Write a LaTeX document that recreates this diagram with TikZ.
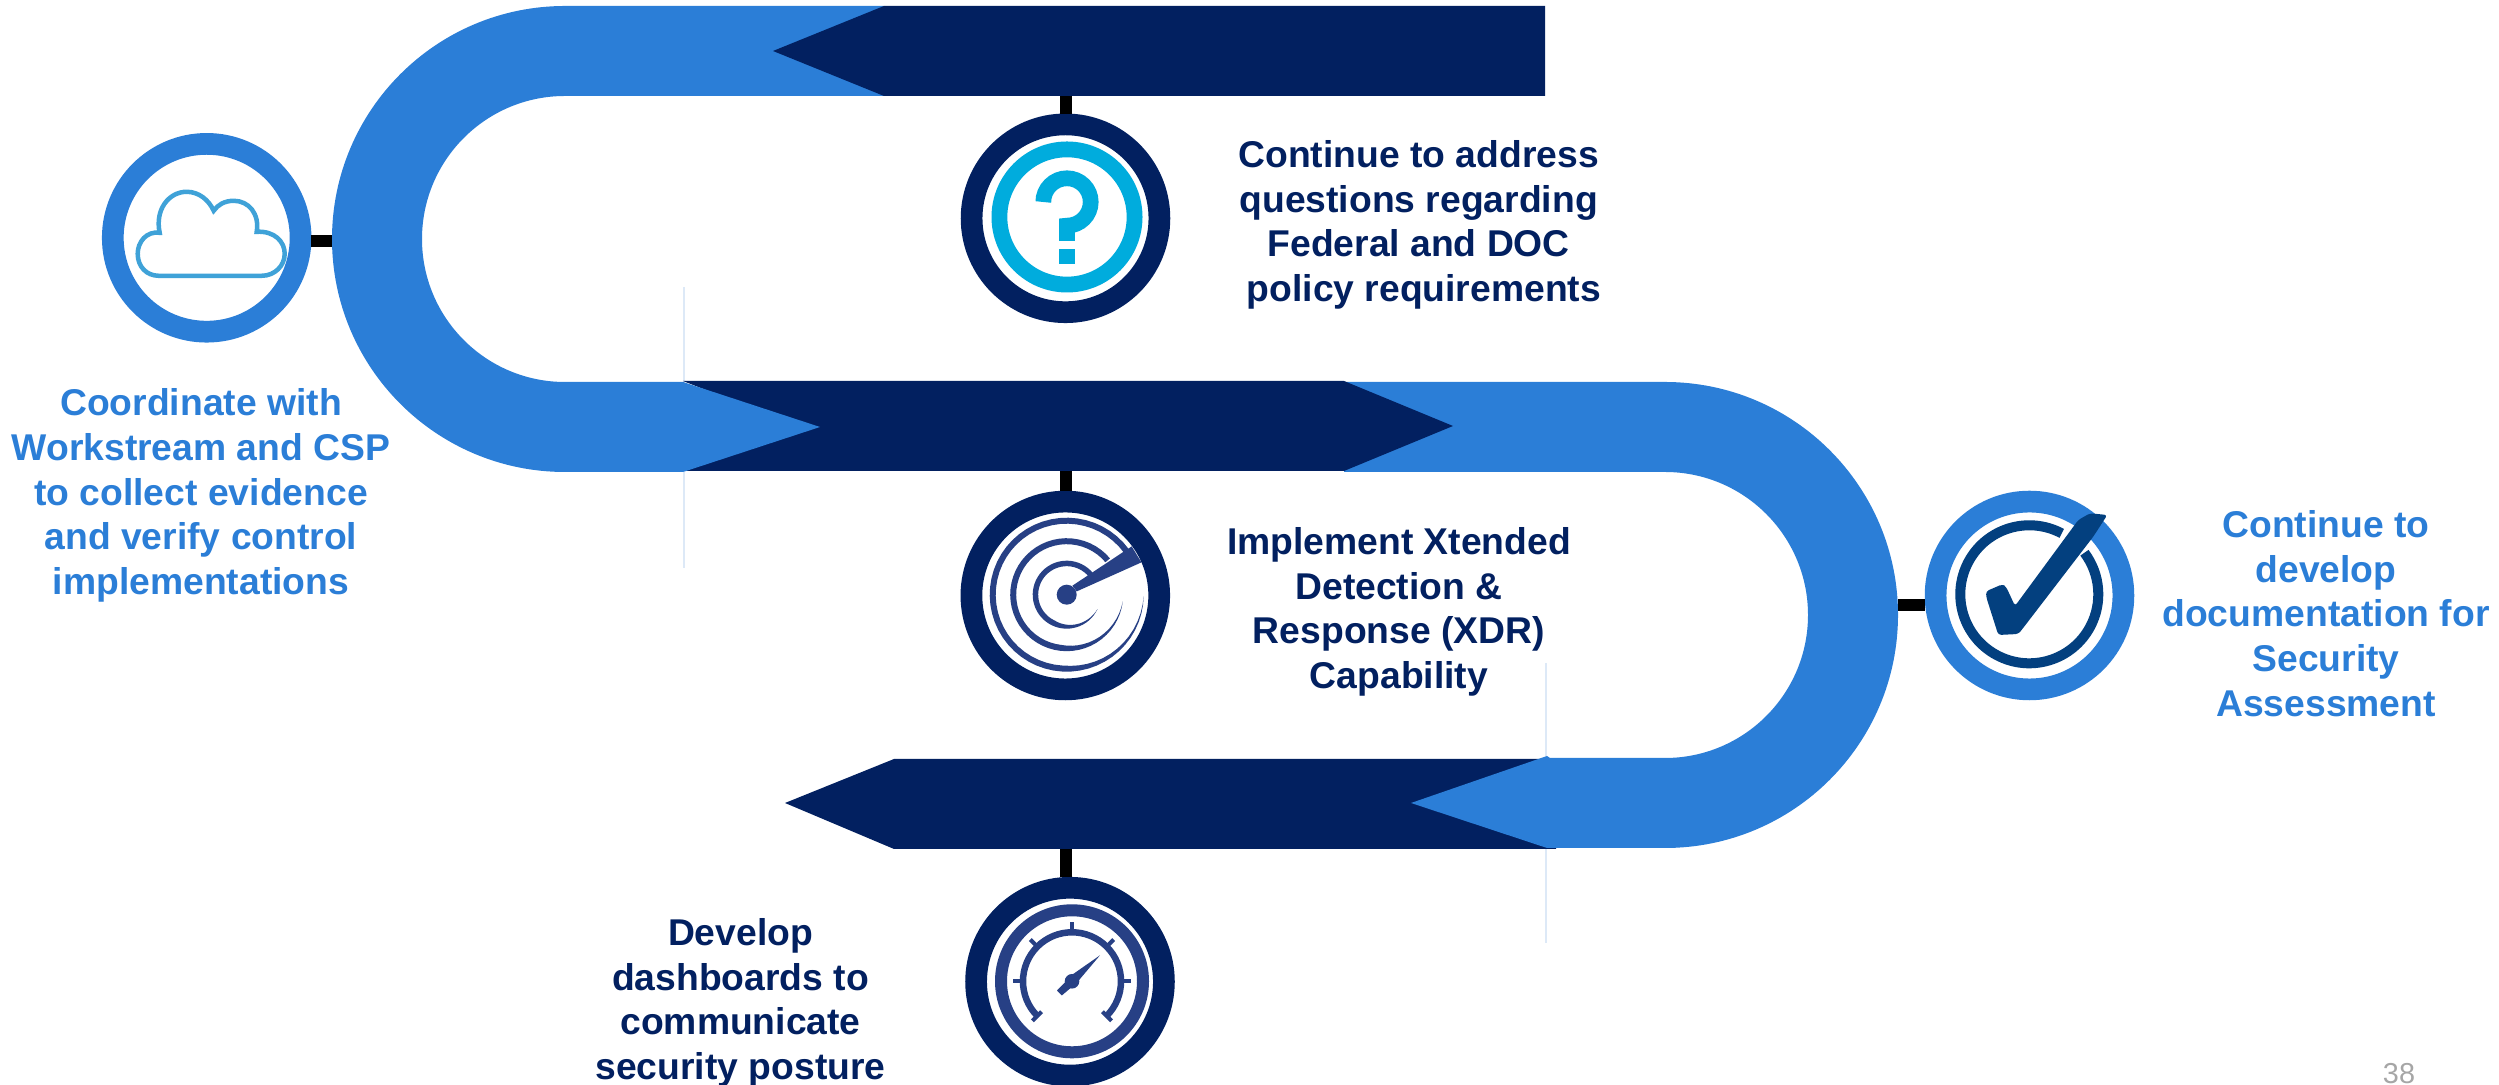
\documentclass[tikz,border=0pt]{standalone}
\usepackage{fontspec}
\setmainfont{Liberation Sans}
\definecolor{navyband}{HTML}{022060}
\definecolor{lightband}{HTML}{2B7ED7}
\definecolor{skyicon}{HTML}{00ACDD}
\definecolor{cloudicon}{HTML}{3FA2D8}
\definecolor{radaricon}{HTML}{274085}
\definecolor{checkicon}{HTML}{03407F}
\definecolor{faintrule}{HTML}{DDE9F7}
\definecolor{pagegray}{HTML}{A6A6A6}
\tikzset{
	ringnode/.style={circle, draw=#1, fill=white, line width=0.217cm, minimum size=1.877cm, inner sep=0pt},
	stepnote/.style={align=center, font=\fontsize{10.6}{12.7}\selectfont\bfseries, text=#1},
	linkbar/.style={draw=black, line width=0.12cm},
	faintline/.style={draw=faintrule, line width=0.012cm},
}
\begin{document}
\begin{tikzpicture}[x=0.01cm, y=0.01cm]
	\useasboundingbox (0,0) rectangle (2499,1085);
	
	%thin rules behind the bands
	\draw[faintline] (684,798) -- (684,517);
	\draw[faintline] (1546,422) -- (1546,142);
	
	%bands, bottom one first
	\fill[navyband] (1556,326) -- (894,326) -- (785,282) -- (894,236) -- (1556,236) -- cycle;
	\fill[lightband] (1344,703) -- (1665,703) arc[start angle=90, end angle=-90, radius=233] -- (1547,237) -- (1411,282) -- (1547,329) -- (1550,327) -- (1665,327) arc[start angle=-90, end angle=90, radius=143] -- (1344,613) -- cycle;
	\fill[navyband] (683,704) -- (800,658) -- (683,614) -- (1344,614) -- (1453,659) -- (1344,704) -- cycle;
	\fill[lightband] (884,1079) -- (565,1079) arc[start angle=90, end angle=270, radius=233] -- (683,613) -- (820,658) -- (683,703) -- (565,703) arc[start angle=270, end angle=90, radius=143] -- (884,989) -- cycle;
	\fill[navyband] (1545,1079) -- (884,1079) -- (773,1034) -- (884,989) -- (1545,989) -- cycle;
	
	%where the bars meet the bands
	\coordinate (cloudport) at (332,844);
	\coordinate (questionport) at (1066,989);
	\coordinate (radarport) at (1066,614);
	\coordinate (gaugeport) at (1066,236);
	\coordinate (checkport) at (1898,480);
	
	%rings
	\node[ringnode=lightband] (cloudring) at (206.7,847.2) {};
	\node[ringnode=navyband] (questionring) at (1065.5,866.7) {};
	\node[ringnode=navyband] (radarring) at (1065.3,489.5) {};
	\node[ringnode=navyband] (gaugering) at (1070,103.3) {};
	\node[ringnode=lightband] (checkring) at (2029.5,489.5) {};
	
	\draw[linkbar] (cloudport) -- (cloudport -| cloudring.east);
	\draw[linkbar] (questionport) -- (questionport |- questionring.north);
	\draw[linkbar] (radarport) -- (radarport |- radarring.north);
	\draw[linkbar] (gaugeport) -- (gaugeport |- gaugering.north);
	\draw[linkbar] (checkport) -- (checkport -| checkring.west);
	
	%cloud
	\begin{scope}[shift={(206.7,847.2)}]
		\draw[cloudicon, line width=0.045cm] (-48,-38) -- (55,-38) .. controls (68,-38) and (78,-28) .. (78,-16) .. controls (78,-4) and (68,7) .. (50,6) .. controls (53,24) and (42,37) .. (27,37) .. controls (18,37) and (11,33) .. (7,27) .. controls (2,38) and (-8,46) .. (-20,46) .. controls (-38,46) and (-52,28) .. (-47,5) .. controls (-60,7) and (-69,-4) .. (-69,-16) .. controls (-69,-29) and (-60,-38) .. (-48,-38) -- cycle;
	\end{scope}
	
	%question mark
	\begin{scope}[shift={(1067,868)}]
		\draw[skyicon, line width=0.158cm] (0,0) circle[radius=67.6];
		\draw[skyicon, line width=0.157cm] (-23.7,15) arc[start angle=180, end angle=-90, radius=23.7] -- (0,-24);
		\fill[skyicon] (-7.8,-32) rectangle (7.8,-47.5);
	\end{scope}
	
	%radar
	\begin{scope}[shift={(1066.7,490.3)}]
		\foreach \rad/\thick/\from/\upto in {34/5.5/40/335, 56.5/6/40/353, 77/6/36/359}{
			\fill[radaricon] plot[domain=\from:\upto, samples=50] (\x:\rad) -- plot[domain=\upto:\from, samples=50] (\x:{\rad-\thick*min(1,(\upto-\x)/90)}) -- cycle;
		}
		\fill[radaricon] (5.7,9) -- (65,48.3) -- (74.7,32.3) -- (10,3.3) -- cycle;
		\fill[radaricon] (0,0) circle[radius=10];
	\end{scope}
	
	%gauge
	\begin{scope}[shift={(1072,103.7)}]
		\draw[radaricon, line width=0.12cm] (0,0) circle[radius=71];
		\draw[radaricon, line width=0.065cm] (-45:49) arc[start angle=-45, end angle=225, radius=49];
		\foreach \ang in {0,45,90,135,180}{
			\draw[radaricon, line width=0.04cm] (\ang:50) -- (\ang:59);
		}
		\draw[radaricon, line width=0.04cm] (225:43) -- (225:56);
		\draw[radaricon, line width=0.04cm] (-45:43) -- (-45:56);
		\fill[radaricon] (28,26) -- (2.8,-3.8) -- (-3.8,3.8) -- cycle;
		\fill[radaricon] (-10.2,-14.2) -- (-15,-9.2) -- (-3,3) -- (3,-3) -- cycle;
		\fill[radaricon] (0,0) circle[radius=7.3];
	\end{scope}
	
	%check mark
	\begin{scope}[shift={(2029.3,490.7)}]
		\draw[checkicon, line width=0.1cm] (62:69) arc[start angle=62, end angle=397, radius=69];
		\fill[checkicon, rounded corners=0.03cm] (-14.3,-11.7) -- (-23.3,7.7) -- (-27,10) -- (-43.3,3) -- (-43,-3) -- (-31,-40.7) -- (-11,-39.7) -- (-7.7,-35.7) -- (64,57.7) -- (78,79.3) -- (60.7,81) -- (49,74.3) -- cycle;
	\end{scope}
	
	%texts
	\node[stepnote=lightband] (cloudnote) at (201,589.5) {Coordinate with\\Workstream and CSP\\to collect evidence\\and verify control\\implementations};
	\node[stepnote=navyband] (questionnote) at (1418.7,860) {Continue to address\\questions regarding\\Federal and DOC\\~policy requirements};
	\node[stepnote=navyband] (radarnote) at (1399,473) {Implement Xtended\\Detection \&\\Response (XDR)\\Capability};
	\node[stepnote=navyband] (gaugenote) at (740.5,82) {Develop\\dashboards to\\communicate\\security posture};
	\node[stepnote=lightband] (checknote) at (2326,471.5) {Continue to\\develop\\documentation for\\Security\\Assessment};
	\node[text=pagegray, font=\fontsize{8.2}{10}\selectfont] (pagenumber) at (2399,11) {38};
	
\end{tikzpicture}
\end{document}
